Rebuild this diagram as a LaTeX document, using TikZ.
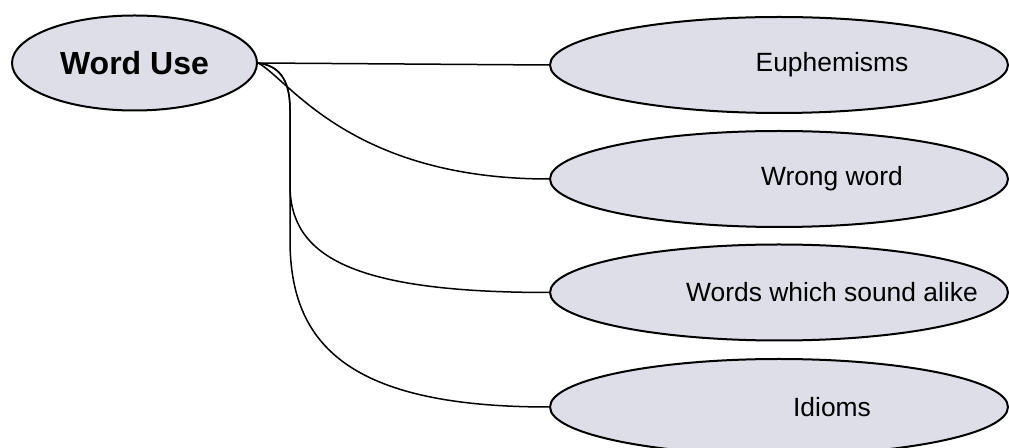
\documentclass[tikz,border=0pt]{standalone}
\usepackage{fontspec}
\setmainfont{Liberation Sans}
\usepackage{tikz}
\usetikzlibrary{
  shapes.geometric,         % ellipse nodes
  positioning               % relative placement
}
\definecolor{bubblefill}{RGB}{221,222,232}
\tikzset{
  topic/.style={
    ellipse,
    draw=black,
    line width=1pt,
    fill=bubblefill,
    inner sep=0pt,
    minimum width=122.5pt,
    minimum height=47.5pt,
    font=\fontsize{16}{18}\selectfont\bfseries
  },
  subtopic/.style={
    ellipse,
    draw=black,
    line width=1pt,
    fill=bubblefill,
    inner sep=0pt,
    minimum width=229pt,
    minimum height=48pt
  },
  subtext/.style={
    xshift=26.5pt,
    font=\fontsize{13.2}{15}\selectfont
  },
  link/.style={
    draw=black,
    line width=0.75pt
  }
}

\begin{document}
\begin{tikzpicture}[x=0.5pt, y=-0.5pt]
    % page frame (pixels of the reference)
    \useasboundingbox (0,0) rectangle (1009,448);
    \clip (0,0) rectangle (1009,448);

    % --- main topic ---
    \node[topic] (use) at (134.5,63) {Word Use};

    % --- sub topics ---
    \node[subtopic, label={[subtext]center:Euphemisms}] (euph) at (779,65) {};
    \node[subtopic, label={[subtext]center:Wrong word}] (wrong) at (779,179) {};
    \node[subtopic, label={[subtext]center:Words which sound alike}] (alike) at (779,292.5) {};
    \node[subtopic, label={[subtext]center:Idioms}] (idioms) at (779,407) {};

    % where the lower branches turn downwards
    \coordinate (fork) at (290,110);

    % --- connectors ---
    \draw[link] (use.east) -- (euph.west);
    \draw[link] (use.east) .. controls +(30,15) and +(-200,0) .. (wrong.west);
    \draw[link] (use.east) .. controls +(25,3) and +(0,-25) .. (fork)
      -- ++(0,75) .. controls +(0,70) and +(-200,0) .. (alike.west);
    \draw[link] (use.east) .. controls +(25,3) and +(0,-25) .. (fork)
      -- ++(0,130) .. controls +(0,105) and +(-200,0) .. (idioms.west);

  \end{tikzpicture}
\end{document}
